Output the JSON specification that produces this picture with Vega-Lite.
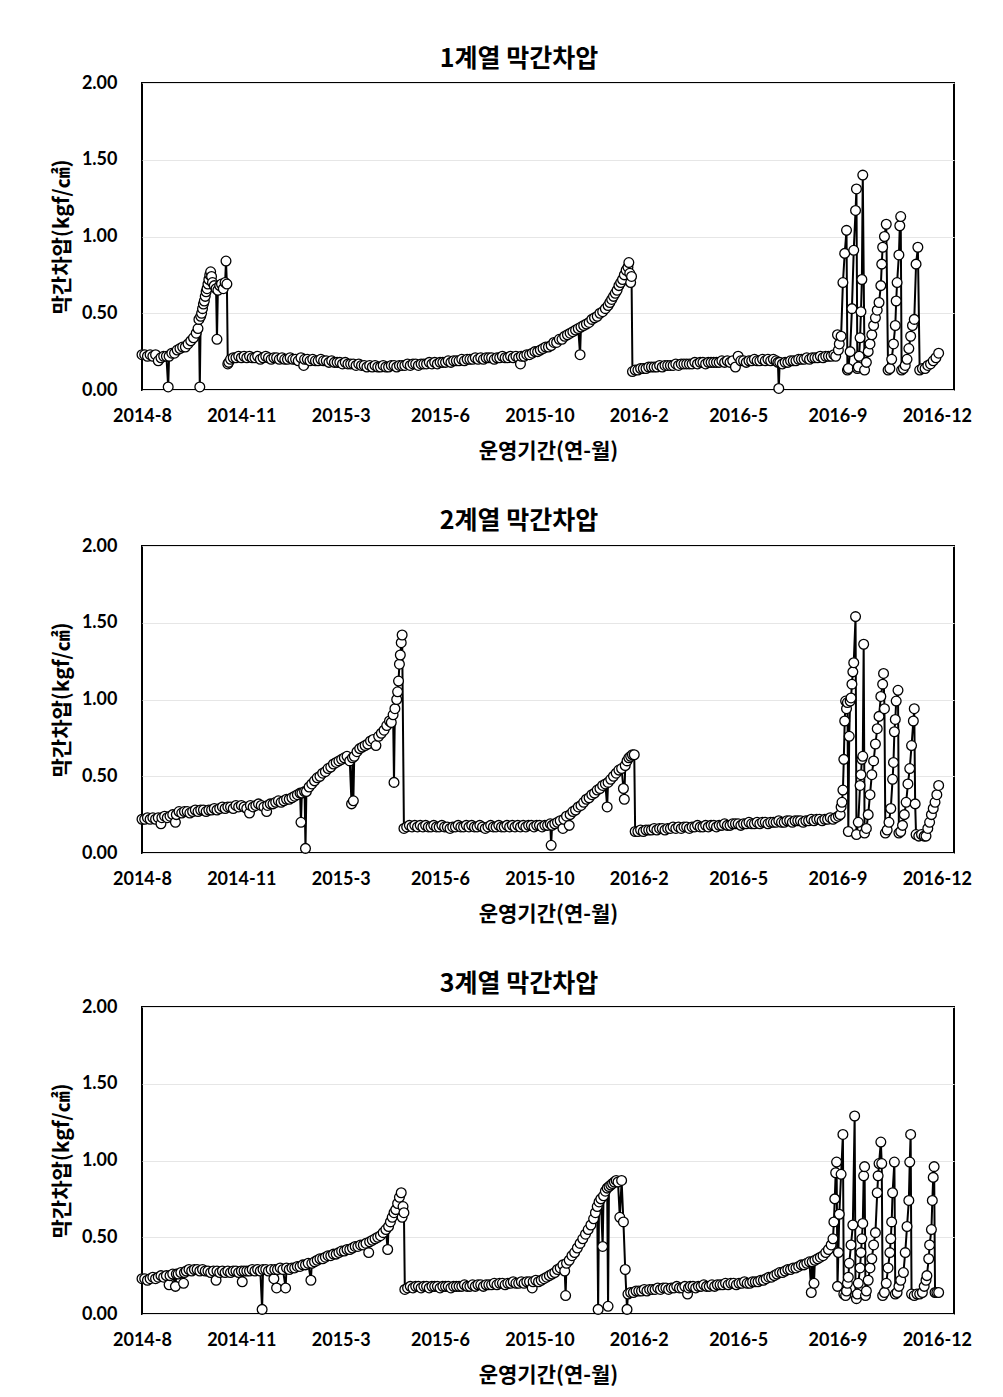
{
"$schema":"https://vega.github.io/schema/vega-lite/v6.json",
"background":"white",
"padding":{"left":50,"top":46,"right":10,"bottom":5},
"spacing":46,
"config":{
"view":{"stroke":"black","strokeWidth":2},
"font":"Noto Sans CJK KR",
"title":{"fontSize":25,"fontWeight":"bold","font":"Noto Sans CJK KR","color":"black","dx":-29,"offset":2}
},
"datasets":{
"s1":[
{"day":0,"v":0.23},{"day":3,"v":0.23},{"day":6,"v":0.22},{"day":9,"v":0.23},{"day":12,"v":0.22},{"day":15,"v":0.23},{"day":18,"v":0.19},{"day":21,"v":0.21},{"day":24,"v":0.22},{"day":27,"v":0.22},{"day":29,"v":0.02},{"day":30,"v":0.22},{"day":33,"v":0.24},{"day":36,"v":0.24},{"day":39,"v":0.26},{"day":42,"v":0.27},{"day":45,"v":0.28},{"day":48,"v":0.28},{"day":51,"v":0.30},{"day":54,"v":0.32},{"day":57,"v":0.34},{"day":60,"v":0.37},{"day":62,"v":0.40},{"day":63,"v":0.46},{"day":64,"v":0.02},{"day":65,"v":0.48},{"day":66,"v":0.50},{"day":67,"v":0.53},{"day":68,"v":0.56},{"day":69,"v":0.58},{"day":70,"v":0.61},{"day":71,"v":0.64},{"day":72,"v":0.66},{"day":73,"v":0.69},{"day":74,"v":0.72},{"day":75,"v":0.75},{"day":76,"v":0.77},{"day":77,"v":0.74},{"day":78,"v":0.70},{"day":80,"v":0.68},{"day":82,"v":0.66},{"day":83,"v":0.33},{"day":84,"v":0.65},{"day":86,"v":0.68},{"day":88,"v":0.69},{"day":90,"v":0.66},{"day":92,"v":0.70},{"day":93,"v":0.84},{"day":94,"v":0.69},{"day":95,"v":0.17},{"day":96,"v":0.18},{"day":98,"v":0.20},
{"day":101,"v":0.21},{"day":104,"v":0.21},{"day":107,"v":0.22},{"day":110,"v":0.21},{"day":113,"v":0.22},{"day":116,"v":0.21},{"day":119,"v":0.22},{"day":122,"v":0.21},{"day":125,"v":0.21},{"day":128,"v":0.22},{"day":131,"v":0.20},{"day":134,"v":0.21},{"day":137,"v":0.22},{"day":140,"v":0.21},{"day":143,"v":0.20},{"day":146,"v":0.21},{"day":149,"v":0.21},{"day":152,"v":0.20},{"day":155,"v":0.21},{"day":158,"v":0.20},{"day":161,"v":0.20},{"day":164,"v":0.21},{"day":167,"v":0.20},{"day":170,"v":0.20},{"day":173,"v":0.19},{"day":176,"v":0.21},{"day":179,"v":0.16},{"day":180,"v":0.20},{"day":183,"v":0.20},{"day":186,"v":0.19},{"day":189,"v":0.20},{"day":192,"v":0.19},{"day":195,"v":0.19},{"day":198,"v":0.20},
{"day":201,"v":0.19},{"day":204,"v":0.19},{"day":207,"v":0.18},{"day":210,"v":0.19},{"day":213,"v":0.18},{"day":216,"v":0.18},{"day":219,"v":0.18},{"day":222,"v":0.17},{"day":225,"v":0.18},{"day":228,"v":0.17},{"day":231,"v":0.17},{"day":234,"v":0.17},{"day":237,"v":0.16},{"day":240,"v":0.17},{"day":243,"v":0.16},{"day":246,"v":0.16},{"day":249,"v":0.15},{"day":252,"v":0.16},{"day":255,"v":0.15},{"day":258,"v":0.16},{"day":261,"v":0.15},{"day":264,"v":0.15},{"day":267,"v":0.16},{"day":270,"v":0.15},{"day":273,"v":0.15},{"day":276,"v":0.16},{"day":279,"v":0.16},{"day":282,"v":0.15},{"day":285,"v":0.16},{"day":288,"v":0.16},{"day":291,"v":0.16},{"day":294,"v":0.17},{"day":297,"v":0.16},{"day":300,"v":0.17},
{"day":303,"v":0.17},{"day":306,"v":0.16},{"day":309,"v":0.17},{"day":312,"v":0.17},{"day":315,"v":0.17},{"day":318,"v":0.18},{"day":321,"v":0.17},{"day":324,"v":0.18},{"day":327,"v":0.17},{"day":330,"v":0.18},{"day":333,"v":0.18},{"day":336,"v":0.18},{"day":339,"v":0.19},{"day":342,"v":0.18},{"day":345,"v":0.19},{"day":348,"v":0.19},{"day":351,"v":0.19},{"day":354,"v":0.20},{"day":357,"v":0.19},{"day":360,"v":0.20},{"day":363,"v":0.20},{"day":366,"v":0.20},{"day":369,"v":0.21},{"day":372,"v":0.20},{"day":375,"v":0.21},{"day":378,"v":0.20},{"day":381,"v":0.21},{"day":384,"v":0.21},{"day":387,"v":0.21},{"day":390,"v":0.20},{"day":393,"v":0.21},{"day":396,"v":0.21},{"day":399,"v":0.22},
{"day":402,"v":0.21},{"day":405,"v":0.21},{"day":408,"v":0.22},{"day":411,"v":0.21},{"day":414,"v":0.22},{"day":417,"v":0.21},{"day":419,"v":0.17},{"day":420,"v":0.22},{"day":423,"v":0.22},{"day":426,"v":0.23},{"day":429,"v":0.23},{"day":432,"v":0.24},{"day":435,"v":0.25},{"day":438,"v":0.25},{"day":441,"v":0.26},{"day":444,"v":0.27},{"day":447,"v":0.28},{"day":450,"v":0.28},{"day":453,"v":0.29},{"day":456,"v":0.31},{"day":459,"v":0.31},{"day":462,"v":0.33},{"day":465,"v":0.33},{"day":468,"v":0.35},{"day":471,"v":0.36},{"day":474,"v":0.37},{"day":477,"v":0.38},{"day":480,"v":0.39},{"day":483,"v":0.40},{"day":485,"v":0.23},{"day":486,"v":0.41},{"day":489,"v":0.42},{"day":492,"v":0.43},{"day":495,"v":0.44},{"day":498,"v":0.46},
{"day":501,"v":0.47},{"day":504,"v":0.48},{"day":507,"v":0.50},{"day":510,"v":0.51},{"day":513,"v":0.53},{"day":516,"v":0.55},{"day":518,"v":0.57},{"day":520,"v":0.59},{"day":522,"v":0.61},{"day":524,"v":0.63},{"day":526,"v":0.65},{"day":528,"v":0.68},{"day":530,"v":0.70},{"day":532,"v":0.72},{"day":534,"v":0.75},{"day":536,"v":0.78},{"day":538,"v":0.80},{"day":539,"v":0.83},{"day":540,"v":0.76},{"day":541,"v":0.70},{"day":542,"v":0.74},{"day":543,"v":0.12},{"day":546,"v":0.13},{"day":549,"v":0.13},{"day":552,"v":0.14},{"day":555,"v":0.14},{"day":558,"v":0.14},{"day":561,"v":0.15},{"day":564,"v":0.15},{"day":567,"v":0.15},{"day":570,"v":0.15},{"day":573,"v":0.16},{"day":576,"v":0.15},{"day":579,"v":0.16},{"day":582,"v":0.16},{"day":585,"v":0.16},{"day":588,"v":0.16},{"day":591,"v":0.17},{"day":594,"v":0.16},{"day":597,"v":0.17},
{"day":600,"v":0.17},{"day":603,"v":0.17},{"day":606,"v":0.17},{"day":609,"v":0.17},{"day":612,"v":0.18},{"day":615,"v":0.17},{"day":618,"v":0.18},{"day":621,"v":0.18},{"day":624,"v":0.17},{"day":627,"v":0.18},{"day":630,"v":0.18},{"day":633,"v":0.18},{"day":636,"v":0.18},{"day":639,"v":0.18},{"day":642,"v":0.19},{"day":645,"v":0.18},{"day":648,"v":0.19},{"day":651,"v":0.18},{"day":654,"v":0.19},{"day":657,"v":0.15},{"day":660,"v":0.22},{"day":663,"v":0.19},{"day":666,"v":0.19},{"day":669,"v":0.18},{"day":672,"v":0.19},{"day":675,"v":0.19},{"day":678,"v":0.20},{"day":681,"v":0.19},{"day":684,"v":0.19},{"day":687,"v":0.20},{"day":690,"v":0.19},{"day":693,"v":0.20},{"day":696,"v":0.19},{"day":699,"v":0.20},
{"day":702,"v":0.19},{"day":704,"v":0.18},{"day":705,"v":0.01},{"day":706,"v":0.18},{"day":709,"v":0.17},{"day":712,"v":0.18},{"day":715,"v":0.18},{"day":718,"v":0.19},{"day":721,"v":0.19},{"day":724,"v":0.19},{"day":727,"v":0.20},{"day":730,"v":0.20},{"day":733,"v":0.20},{"day":736,"v":0.21},{"day":739,"v":0.20},{"day":742,"v":0.21},{"day":745,"v":0.21},{"day":748,"v":0.21},{"day":751,"v":0.22},{"day":754,"v":0.21},{"day":757,"v":0.22},{"day":760,"v":0.22},{"day":763,"v":0.22},{"day":766,"v":0.23},{"day":768,"v":0.22},{"day":770,"v":0.36},{"day":771,"v":0.26},{"day":772,"v":0.30},{"day":774,"v":0.35},{"day":776,"v":0.70},{"day":778,"v":0.89},{"day":780,"v":1.04},{"day":781,"v":0.13},{"day":782,"v":0.14},{"day":784,"v":0.25},{"day":786,"v":0.53},{"day":788,"v":0.91},{"day":790,"v":1.17},{"day":791,"v":1.31},{"day":792,"v":0.14},{"day":793,"v":0.15},{"day":794,"v":0.22},{"day":795,"v":0.34},{"day":796,"v":0.51},{"day":797,"v":0.72},{"day":798,"v":1.40},
{"day":800,"v":0.13},{"day":802,"v":0.18},{"day":804,"v":0.25},{"day":806,"v":0.30},{"day":808,"v":0.36},{"day":810,"v":0.42},{"day":812,"v":0.47},{"day":814,"v":0.52},{"day":816,"v":0.57},{"day":818,"v":0.68},{"day":819,"v":0.82},{"day":820,"v":0.93},{"day":822,"v":1.00},{"day":824,"v":1.08},{"day":826,"v":0.13},{"day":828,"v":0.14},{"day":830,"v":0.20},{"day":832,"v":0.30},{"day":834,"v":0.42},{"day":835,"v":0.58},{"day":836,"v":0.70},{"day":838,"v":0.88},{"day":839,"v":1.07},{"day":840,"v":1.13},{"day":841,"v":0.13},{"day":843,"v":0.14},{"day":845,"v":0.16},{"day":847,"v":0.20},{"day":849,"v":0.27},{"day":851,"v":0.35},{"day":853,"v":0.42},{"day":855,"v":0.46},{"day":857,"v":0.82},{"day":859,"v":0.93},{"day":861,"v":0.13},{"day":864,"v":0.14},{"day":867,"v":0.14},{"day":870,"v":0.16},{"day":873,"v":0.17},{"day":876,"v":0.19},{"day":879,"v":0.21},{"day":882,"v":0.24}
],
"s2":[
{"day":0,"v":0.22},{"day":3,"v":0.22},{"day":6,"v":0.23},{"day":9,"v":0.22},{"day":12,"v":0.23},{"day":15,"v":0.22},{"day":18,"v":0.23},{"day":21,"v":0.19},{"day":22,"v":0.23},{"day":25,"v":0.24},{"day":28,"v":0.23},{"day":31,"v":0.24},{"day":34,"v":0.25},{"day":37,"v":0.20},{"day":38,"v":0.25},{"day":41,"v":0.27},{"day":44,"v":0.26},{"day":47,"v":0.27},{"day":50,"v":0.27},{"day":53,"v":0.26},{"day":56,"v":0.27},{"day":59,"v":0.28},{"day":62,"v":0.27},{"day":65,"v":0.28},{"day":68,"v":0.28},{"day":71,"v":0.27},{"day":74,"v":0.28},{"day":77,"v":0.28},{"day":80,"v":0.29},{"day":83,"v":0.28},{"day":86,"v":0.29},{"day":89,"v":0.30},{"day":92,"v":0.29},{"day":95,"v":0.30},{"day":98,"v":0.30},
{"day":101,"v":0.29},{"day":104,"v":0.31},{"day":107,"v":0.30},{"day":110,"v":0.31},{"day":113,"v":0.30},{"day":116,"v":0.29},{"day":119,"v":0.26},{"day":120,"v":0.31},{"day":123,"v":0.30},{"day":126,"v":0.31},{"day":129,"v":0.32},{"day":132,"v":0.31},{"day":135,"v":0.30},{"day":138,"v":0.27},{"day":139,"v":0.31},{"day":142,"v":0.32},{"day":145,"v":0.32},{"day":148,"v":0.33},{"day":151,"v":0.34},{"day":154,"v":0.33},{"day":157,"v":0.34},{"day":160,"v":0.35},{"day":163,"v":0.35},{"day":166,"v":0.36},{"day":169,"v":0.37},{"day":172,"v":0.38},{"day":175,"v":0.39},{"day":176,"v":0.20},{"day":177,"v":0.39},{"day":180,"v":0.40},{"day":181,"v":0.03},{"day":182,"v":0.40},{"day":185,"v":0.43},{"day":188,"v":0.45},{"day":191,"v":0.47},{"day":194,"v":0.49},{"day":197,"v":0.50},
{"day":200,"v":0.52},{"day":203,"v":0.53},{"day":206,"v":0.55},{"day":209,"v":0.56},{"day":212,"v":0.58},{"day":215,"v":0.59},{"day":218,"v":0.60},{"day":221,"v":0.61},{"day":224,"v":0.62},{"day":227,"v":0.63},{"day":230,"v":0.60},{"day":232,"v":0.32},{"day":233,"v":0.62},{"day":234,"v":0.34},{"day":235,"v":0.63},{"day":238,"v":0.66},{"day":241,"v":0.68},{"day":244,"v":0.69},{"day":247,"v":0.70},{"day":250,"v":0.71},{"day":253,"v":0.73},{"day":256,"v":0.74},{"day":259,"v":0.70},{"day":262,"v":0.76},{"day":265,"v":0.78},{"day":268,"v":0.80},{"day":271,"v":0.83},{"day":274,"v":0.86},{"day":276,"v":0.85},{"day":278,"v":0.90},{"day":279,"v":0.46},{"day":280,"v":0.94},{"day":282,"v":1.00},{"day":283,"v":1.05},{"day":284,"v":1.12},{"day":285,"v":1.23},{"day":286,"v":1.29},{"day":287,"v":1.37},{"day":288,"v":1.42},{"day":290,"v":0.16},
{"day":293,"v":0.17},{"day":296,"v":0.18},{"day":299,"v":0.17},{"day":302,"v":0.18},{"day":305,"v":0.17},{"day":308,"v":0.18},{"day":311,"v":0.17},{"day":314,"v":0.18},{"day":317,"v":0.17},{"day":320,"v":0.17},{"day":323,"v":0.18},{"day":326,"v":0.17},{"day":329,"v":0.17},{"day":332,"v":0.18},{"day":335,"v":0.17},{"day":338,"v":0.17},{"day":341,"v":0.16},{"day":344,"v":0.17},{"day":347,"v":0.17},{"day":350,"v":0.18},{"day":353,"v":0.17},{"day":356,"v":0.17},{"day":359,"v":0.18},{"day":362,"v":0.17},{"day":365,"v":0.18},{"day":368,"v":0.17},{"day":371,"v":0.17},{"day":374,"v":0.18},{"day":377,"v":0.17},{"day":380,"v":0.16},{"day":383,"v":0.17},{"day":386,"v":0.18},{"day":389,"v":0.17},{"day":392,"v":0.17},{"day":395,"v":0.18},{"day":398,"v":0.17},
{"day":401,"v":0.17},{"day":404,"v":0.18},{"day":407,"v":0.17},{"day":410,"v":0.18},{"day":413,"v":0.17},{"day":416,"v":0.18},{"day":419,"v":0.17},{"day":422,"v":0.18},{"day":425,"v":0.17},{"day":428,"v":0.18},{"day":431,"v":0.18},{"day":434,"v":0.17},{"day":437,"v":0.18},{"day":440,"v":0.18},{"day":443,"v":0.17},{"day":446,"v":0.18},{"day":449,"v":0.18},{"day":452,"v":0.19},{"day":453,"v":0.05},{"day":454,"v":0.18},{"day":457,"v":0.19},{"day":460,"v":0.20},{"day":463,"v":0.21},{"day":466,"v":0.16},{"day":467,"v":0.22},{"day":470,"v":0.24},{"day":473,"v":0.18},{"day":474,"v":0.25},{"day":477,"v":0.27},{"day":480,"v":0.28},{"day":483,"v":0.30},{"day":486,"v":0.31},{"day":489,"v":0.33},{"day":492,"v":0.35},{"day":495,"v":0.36},{"day":498,"v":0.38},
{"day":501,"v":0.39},{"day":504,"v":0.41},{"day":507,"v":0.42},{"day":510,"v":0.44},{"day":513,"v":0.45},{"day":515,"v":0.30},{"day":516,"v":0.46},{"day":519,"v":0.48},{"day":522,"v":0.50},{"day":525,"v":0.52},{"day":528,"v":0.54},{"day":531,"v":0.55},{"day":533,"v":0.42},{"day":534,"v":0.35},{"day":535,"v":0.57},{"day":537,"v":0.60},{"day":539,"v":0.62},{"day":541,"v":0.63},{"day":543,"v":0.64},{"day":545,"v":0.64},{"day":546,"v":0.14},{"day":549,"v":0.14},{"day":552,"v":0.15},{"day":555,"v":0.14},{"day":558,"v":0.15},{"day":561,"v":0.15},{"day":564,"v":0.15},{"day":567,"v":0.16},{"day":570,"v":0.15},{"day":573,"v":0.16},{"day":576,"v":0.16},{"day":579,"v":0.15},{"day":582,"v":0.16},{"day":585,"v":0.16},{"day":588,"v":0.17},{"day":591,"v":0.16},{"day":594,"v":0.17},{"day":597,"v":0.16},
{"day":600,"v":0.17},{"day":603,"v":0.17},{"day":606,"v":0.16},{"day":609,"v":0.17},{"day":612,"v":0.17},{"day":615,"v":0.18},{"day":618,"v":0.17},{"day":621,"v":0.17},{"day":624,"v":0.18},{"day":627,"v":0.17},{"day":630,"v":0.18},{"day":633,"v":0.18},{"day":636,"v":0.17},{"day":639,"v":0.18},{"day":642,"v":0.18},{"day":645,"v":0.19},{"day":648,"v":0.18},{"day":651,"v":0.18},{"day":654,"v":0.19},{"day":657,"v":0.19},{"day":660,"v":0.19},{"day":663,"v":0.18},{"day":666,"v":0.19},{"day":669,"v":0.19},{"day":672,"v":0.20},{"day":675,"v":0.19},{"day":678,"v":0.19},{"day":681,"v":0.20},{"day":684,"v":0.19},{"day":687,"v":0.20},{"day":690,"v":0.20},{"day":693,"v":0.19},{"day":696,"v":0.20},{"day":699,"v":0.20},
{"day":702,"v":0.20},{"day":705,"v":0.21},{"day":708,"v":0.20},{"day":711,"v":0.20},{"day":714,"v":0.21},{"day":717,"v":0.21},{"day":720,"v":0.20},{"day":723,"v":0.21},{"day":726,"v":0.21},{"day":729,"v":0.21},{"day":732,"v":0.20},{"day":735,"v":0.21},{"day":738,"v":0.21},{"day":741,"v":0.22},{"day":744,"v":0.21},{"day":747,"v":0.22},{"day":750,"v":0.22},{"day":753,"v":0.21},{"day":756,"v":0.22},{"day":759,"v":0.22},{"day":762,"v":0.23},{"day":765,"v":0.22},{"day":768,"v":0.23},{"day":771,"v":0.24},{"day":773,"v":0.25},{"day":774,"v":0.30},{"day":775,"v":0.33},{"day":776,"v":0.41},{"day":777,"v":0.61},{"day":778,"v":0.86},{"day":779,"v":0.99},{"day":780,"v":0.94},{"day":781,"v":0.98},{"day":782,"v":0.14},{"day":783,"v":0.76},{"day":784,"v":0.99},{"day":785,"v":1.01},{"day":786,"v":1.10},{"day":787,"v":1.18},{"day":788,"v":1.24},{"day":790,"v":1.54},{"day":791,"v":0.12},{"day":793,"v":0.20},{"day":795,"v":0.44},{"day":796,"v":0.51},{"day":797,"v":0.61},{"day":798,"v":0.63},{"day":799,"v":1.36},
{"day":800,"v":0.13},{"day":802,"v":0.16},{"day":804,"v":0.25},{"day":806,"v":0.38},{"day":808,"v":0.51},{"day":810,"v":0.60},{"day":812,"v":0.71},{"day":814,"v":0.81},{"day":816,"v":0.89},{"day":818,"v":1.02},{"day":820,"v":1.10},{"day":821,"v":1.17},{"day":822,"v":0.94},{"day":823,"v":0.13},{"day":825,"v":0.15},{"day":827,"v":0.20},{"day":829,"v":0.29},{"day":831,"v":0.48},{"day":832,"v":0.59},{"day":833,"v":0.79},{"day":834,"v":0.87},{"day":835,"v":0.99},{"day":837,"v":1.06},{"day":838,"v":0.13},{"day":840,"v":0.14},{"day":842,"v":0.18},{"day":844,"v":0.25},{"day":846,"v":0.33},{"day":848,"v":0.45},{"day":850,"v":0.55},{"day":852,"v":0.70},{"day":854,"v":0.86},{"day":855,"v":0.94},{"day":856,"v":0.32},{"day":857,"v":0.12},{"day":860,"v":0.11},{"day":863,"v":0.12},{"day":866,"v":0.11},{"day":868,"v":0.11},{"day":870,"v":0.16},{"day":872,"v":0.20},{"day":874,"v":0.25},{"day":876,"v":0.29},{"day":878,"v":0.33},{"day":880,"v":0.38},{"day":882,"v":0.44}
],
"s3":[
{"day":0,"v":0.23},{"day":3,"v":0.23},{"day":6,"v":0.22},{"day":9,"v":0.23},{"day":12,"v":0.24},{"day":15,"v":0.23},{"day":18,"v":0.24},{"day":21,"v":0.25},{"day":24,"v":0.24},{"day":27,"v":0.25},{"day":30,"v":0.19},{"day":31,"v":0.25},{"day":34,"v":0.26},{"day":37,"v":0.18},{"day":38,"v":0.26},{"day":40,"v":0.26},{"day":43,"v":0.27},{"day":46,"v":0.20},{"day":47,"v":0.27},{"day":49,"v":0.28},{"day":52,"v":0.29},{"day":55,"v":0.28},{"day":58,"v":0.29},{"day":61,"v":0.29},{"day":64,"v":0.28},{"day":67,"v":0.29},{"day":70,"v":0.28},{"day":73,"v":0.28},{"day":76,"v":0.27},{"day":79,"v":0.28},{"day":82,"v":0.22},{"day":83,"v":0.28},{"day":86,"v":0.27},{"day":89,"v":0.28},{"day":92,"v":0.27},{"day":95,"v":0.28},{"day":98,"v":0.27},
{"day":101,"v":0.28},{"day":104,"v":0.28},{"day":107,"v":0.27},{"day":110,"v":0.28},{"day":111,"v":0.21},{"day":113,"v":0.28},{"day":116,"v":0.28},{"day":119,"v":0.28},{"day":122,"v":0.29},{"day":125,"v":0.28},{"day":128,"v":0.29},{"day":131,"v":0.28},{"day":133,"v":0.03},{"day":134,"v":0.29},{"day":137,"v":0.29},{"day":140,"v":0.28},{"day":143,"v":0.29},{"day":146,"v":0.23},{"day":147,"v":0.29},{"day":149,"v":0.17},{"day":150,"v":0.29},{"day":153,"v":0.30},{"day":156,"v":0.29},{"day":159,"v":0.17},{"day":160,"v":0.30},{"day":163,"v":0.29},{"day":166,"v":0.30},{"day":169,"v":0.30},{"day":172,"v":0.31},{"day":175,"v":0.31},{"day":178,"v":0.32},{"day":181,"v":0.32},{"day":184,"v":0.33},{"day":187,"v":0.22},{"day":188,"v":0.33},{"day":191,"v":0.34},{"day":194,"v":0.35},{"day":197,"v":0.36},
{"day":200,"v":0.36},{"day":203,"v":0.37},{"day":206,"v":0.38},{"day":209,"v":0.38},{"day":212,"v":0.39},{"day":215,"v":0.39},{"day":218,"v":0.40},{"day":221,"v":0.41},{"day":224,"v":0.41},{"day":227,"v":0.42},{"day":230,"v":0.42},{"day":233,"v":0.43},{"day":236,"v":0.44},{"day":239,"v":0.44},{"day":242,"v":0.45},{"day":245,"v":0.45},{"day":248,"v":0.46},{"day":251,"v":0.40},{"day":252,"v":0.47},{"day":255,"v":0.48},{"day":258,"v":0.49},{"day":261,"v":0.50},{"day":264,"v":0.51},{"day":267,"v":0.53},{"day":270,"v":0.55},{"day":272,"v":0.42},{"day":273,"v":0.57},{"day":275,"v":0.60},{"day":277,"v":0.63},{"day":279,"v":0.66},{"day":281,"v":0.68},{"day":283,"v":0.72},{"day":285,"v":0.76},{"day":287,"v":0.79},{"day":288,"v":0.63},{"day":289,"v":0.70},{"day":290,"v":0.66},{"day":291,"v":0.16},
{"day":294,"v":0.17},{"day":297,"v":0.18},{"day":300,"v":0.17},{"day":303,"v":0.18},{"day":306,"v":0.18},{"day":309,"v":0.17},{"day":312,"v":0.18},{"day":315,"v":0.18},{"day":318,"v":0.17},{"day":321,"v":0.18},{"day":324,"v":0.18},{"day":327,"v":0.18},{"day":330,"v":0.17},{"day":333,"v":0.18},{"day":336,"v":0.18},{"day":339,"v":0.18},{"day":342,"v":0.17},{"day":345,"v":0.18},{"day":348,"v":0.18},{"day":351,"v":0.18},{"day":354,"v":0.18},{"day":357,"v":0.19},{"day":360,"v":0.18},{"day":363,"v":0.18},{"day":366,"v":0.19},{"day":369,"v":0.18},{"day":372,"v":0.19},{"day":375,"v":0.19},{"day":378,"v":0.18},{"day":381,"v":0.19},{"day":384,"v":0.19},{"day":387,"v":0.19},{"day":390,"v":0.20},{"day":393,"v":0.19},{"day":396,"v":0.20},{"day":399,"v":0.20},
{"day":402,"v":0.19},{"day":405,"v":0.20},{"day":408,"v":0.20},{"day":411,"v":0.21},{"day":414,"v":0.20},{"day":417,"v":0.20},{"day":420,"v":0.21},{"day":423,"v":0.20},{"day":426,"v":0.21},{"day":429,"v":0.21},{"day":432,"v":0.17},{"day":433,"v":0.21},{"day":436,"v":0.22},{"day":439,"v":0.21},{"day":442,"v":0.22},{"day":445,"v":0.23},{"day":448,"v":0.24},{"day":451,"v":0.25},{"day":454,"v":0.26},{"day":457,"v":0.27},{"day":460,"v":0.29},{"day":463,"v":0.30},{"day":466,"v":0.32},{"day":468,"v":0.28},{"day":469,"v":0.12},{"day":470,"v":0.33},{"day":473,"v":0.35},{"day":476,"v":0.38},{"day":479,"v":0.40},{"day":482,"v":0.43},{"day":485,"v":0.46},{"day":488,"v":0.49},{"day":491,"v":0.52},{"day":494,"v":0.55},{"day":497,"v":0.58},
{"day":500,"v":0.62},{"day":502,"v":0.66},{"day":504,"v":0.70},{"day":505,"v":0.03},{"day":506,"v":0.73},{"day":508,"v":0.75},{"day":510,"v":0.44},{"day":511,"v":0.77},{"day":513,"v":0.80},{"day":515,"v":0.82},{"day":516,"v":0.05},{"day":517,"v":0.83},{"day":519,"v":0.84},{"day":521,"v":0.85},{"day":523,"v":0.86},{"day":525,"v":0.87},{"day":527,"v":0.86},{"day":529,"v":0.63},{"day":531,"v":0.87},{"day":533,"v":0.60},{"day":535,"v":0.29},{"day":537,"v":0.03},{"day":538,"v":0.13},{"day":541,"v":0.14},{"day":544,"v":0.14},{"day":547,"v":0.15},{"day":550,"v":0.15},{"day":553,"v":0.15},{"day":556,"v":0.16},{"day":559,"v":0.15},{"day":562,"v":0.16},{"day":565,"v":0.16},{"day":568,"v":0.16},{"day":571,"v":0.17},{"day":574,"v":0.16},{"day":577,"v":0.17},{"day":580,"v":0.17},{"day":583,"v":0.16},{"day":586,"v":0.17},{"day":589,"v":0.17},{"day":592,"v":0.18},{"day":595,"v":0.17},{"day":598,"v":0.17},
{"day":601,"v":0.18},{"day":604,"v":0.13},{"day":605,"v":0.17},{"day":607,"v":0.18},{"day":610,"v":0.18},{"day":613,"v":0.17},{"day":616,"v":0.18},{"day":619,"v":0.18},{"day":622,"v":0.19},{"day":625,"v":0.18},{"day":628,"v":0.18},{"day":631,"v":0.19},{"day":634,"v":0.18},{"day":637,"v":0.19},{"day":640,"v":0.19},{"day":643,"v":0.19},{"day":646,"v":0.20},{"day":649,"v":0.19},{"day":652,"v":0.20},{"day":655,"v":0.20},{"day":658,"v":0.19},{"day":661,"v":0.20},{"day":664,"v":0.20},{"day":667,"v":0.21},{"day":670,"v":0.20},{"day":673,"v":0.20},{"day":676,"v":0.21},{"day":679,"v":0.21},{"day":682,"v":0.21},{"day":685,"v":0.22},{"day":688,"v":0.22},{"day":691,"v":0.23},{"day":694,"v":0.24},{"day":697,"v":0.24},
{"day":700,"v":0.25},{"day":703,"v":0.26},{"day":706,"v":0.27},{"day":709,"v":0.27},{"day":712,"v":0.28},{"day":715,"v":0.29},{"day":718,"v":0.29},{"day":721,"v":0.30},{"day":724,"v":0.30},{"day":727,"v":0.31},{"day":730,"v":0.32},{"day":733,"v":0.32},{"day":736,"v":0.33},{"day":739,"v":0.34},{"day":741,"v":0.14},{"day":742,"v":0.34},{"day":744,"v":0.20},{"day":745,"v":0.35},{"day":748,"v":0.36},{"day":751,"v":0.37},{"day":754,"v":0.38},{"day":757,"v":0.40},{"day":760,"v":0.42},{"day":763,"v":0.45},{"day":765,"v":0.49},{"day":766,"v":0.60},{"day":767,"v":0.75},{"day":768,"v":0.92},{"day":769,"v":0.99},{"day":770,"v":0.18},{"day":771,"v":0.40},{"day":772,"v":0.65},{"day":774,"v":0.91},{"day":776,"v":1.17},{"day":777,"v":0.13},{"day":779,"v":0.12},{"day":780,"v":0.15},{"day":781,"v":0.20},{"day":782,"v":0.24},{"day":783,"v":0.33},{"day":785,"v":0.45},{"day":787,"v":0.58},{"day":789,"v":1.29},{"day":790,"v":0.12},{"day":791,"v":0.10},{"day":792,"v":0.13},{"day":793,"v":0.20},{"day":795,"v":0.30},{"day":796,"v":0.40},{"day":797,"v":0.49},{"day":798,"v":0.59},{"day":799,"v":0.90},
{"day":800,"v":0.96},{"day":801,"v":0.12},{"day":802,"v":0.15},{"day":804,"v":0.22},{"day":806,"v":0.30},{"day":808,"v":0.36},{"day":810,"v":0.45},{"day":812,"v":0.53},{"day":814,"v":0.79},{"day":815,"v":0.90},{"day":816,"v":0.98},{"day":818,"v":1.12},{"day":819,"v":0.98},{"day":820,"v":0.12},{"day":822,"v":0.14},{"day":824,"v":0.20},{"day":826,"v":0.30},{"day":828,"v":0.40},{"day":829,"v":0.49},{"day":830,"v":0.60},{"day":831,"v":0.79},{"day":833,"v":0.99},{"day":834,"v":0.13},{"day":836,"v":0.14},{"day":838,"v":0.18},{"day":840,"v":0.22},{"day":843,"v":0.27},{"day":845,"v":0.40},{"day":847,"v":0.57},{"day":849,"v":0.74},{"day":850,"v":0.99},{"day":851,"v":1.17},{"day":852,"v":0.13},{"day":855,"v":0.12},{"day":858,"v":0.13},{"day":861,"v":0.13},{"day":864,"v":0.14},{"day":866,"v":0.18},{"day":868,"v":0.22},{"day":869,"v":0.25},{"day":871,"v":0.36},{"day":872,"v":0.45},{"day":874,"v":0.55},{"day":875,"v":0.74},{"day":876,"v":0.89},{"day":877,"v":0.96},{"day":878,"v":0.14},{"day":880,"v":0.14},{"day":882,"v":0.14}
]
},
"vconcat":[
{"title":{"text":"1계열 막간차압","offset":2},"width":812,"height":307,"data":{"name":"s1"},
"encoding":{"x":{"field":"day","type":"quantitative","scale":{"domain":[0,899],"nice":false,"zero":false},"axis":{"title":"운영기간(연-월)","values":[0,110,220,330,440,550,660,770,880],"labelExpr":"['2014-8','2014-11','2015-3','2015-6','2015-10','2016-2','2016-5','2016-9','2016-12'][round(datum.value/110)]","grid":false,"ticks":false,"domain":false,"labelFlush":false,"labelOverlap":false,"labelFont":"Lato","labelFontWeight":"bold","labelFontSize":18,"labelColor":"black","labelPadding":17,"titleFont":"Noto Sans CJK KR","titleFontSize":21,"titleFontWeight":"bold","titleColor":"black","titlePadding":15}},
"y":{"field":"v","type":"quantitative","scale":{"domain":[0,2],"nice":false},"axis":{"title":"막간차압(kgf/㎠)","values":[0,0.5,1,1.5,2],"format":".2f","grid":true,"gridColor":"#e6e6e6","gridWidth":1,"ticks":false,"domain":false,"labelFont":"Lato","labelFontWeight":"bold","labelFontSize":18,"labelColor":"black","labelPadding":25,"titleFont":"Noto Sans CJK KR","titleFontSize":21,"titleFontWeight":"bold","titleColor":"black","titlePadding":9}}},
"layer":[{"mark":{"type":"line","color":"black","strokeWidth":2}},{"mark":{"type":"point","shape":"circle","filled":true,"fill":"white","stroke":"black","strokeWidth":1.3,"size":95,"opacity":1}}]},
{"title":{"text":"2계열 막간차압","offset":3},"width":812,"height":307,"data":{"name":"s2"},
"encoding":{"x":{"field":"day","type":"quantitative","scale":{"domain":[0,899],"nice":false,"zero":false},"axis":{"title":"운영기간(연-월)","values":[0,110,220,330,440,550,660,770,880],"labelExpr":"['2014-8','2014-11','2015-3','2015-6','2015-10','2016-2','2016-5','2016-9','2016-12'][round(datum.value/110)]","grid":false,"ticks":false,"domain":false,"labelFlush":false,"labelOverlap":false,"labelFont":"Lato","labelFontWeight":"bold","labelFontSize":18,"labelColor":"black","labelPadding":17,"titleFont":"Noto Sans CJK KR","titleFontSize":21,"titleFontWeight":"bold","titleColor":"black","titlePadding":15}},
"y":{"field":"v","type":"quantitative","scale":{"domain":[0,2],"nice":false},"axis":{"title":"막간차압(kgf/㎠)","values":[0,0.5,1,1.5,2],"format":".2f","grid":true,"gridColor":"#e6e6e6","gridWidth":1,"ticks":false,"domain":false,"labelFont":"Lato","labelFontWeight":"bold","labelFontSize":18,"labelColor":"black","labelPadding":25,"titleFont":"Noto Sans CJK KR","titleFontSize":21,"titleFontWeight":"bold","titleColor":"black","titlePadding":9}}},
"layer":[{"mark":{"type":"line","color":"black","strokeWidth":2}},{"mark":{"type":"point","shape":"circle","filled":true,"fill":"white","stroke":"black","strokeWidth":1.3,"size":95,"opacity":1}}]},
{"title":{"text":"3계열 막간차압","offset":1},"width":812,"height":307,"data":{"name":"s3"},
"encoding":{"x":{"field":"day","type":"quantitative","scale":{"domain":[0,899],"nice":false,"zero":false},"axis":{"title":"운영기간(연-월)","values":[0,110,220,330,440,550,660,770,880],"labelExpr":"['2014-8','2014-11','2015-3','2015-6','2015-10','2016-2','2016-5','2016-9','2016-12'][round(datum.value/110)]","grid":false,"ticks":false,"domain":false,"labelFlush":false,"labelOverlap":false,"labelFont":"Lato","labelFontWeight":"bold","labelFontSize":18,"labelColor":"black","labelPadding":17,"titleFont":"Noto Sans CJK KR","titleFontSize":21,"titleFontWeight":"bold","titleColor":"black","titlePadding":15}},
"y":{"field":"v","type":"quantitative","scale":{"domain":[0,2],"nice":false},"axis":{"title":"막간차압(kgf/㎠)","values":[0,0.5,1,1.5,2],"format":".2f","grid":true,"gridColor":"#e6e6e6","gridWidth":1,"ticks":false,"domain":false,"labelFont":"Lato","labelFontWeight":"bold","labelFontSize":18,"labelColor":"black","labelPadding":25,"titleFont":"Noto Sans CJK KR","titleFontSize":21,"titleFontWeight":"bold","titleColor":"black","titlePadding":9}}},
"layer":[{"mark":{"type":"line","color":"black","strokeWidth":2}},{"mark":{"type":"point","shape":"circle","filled":true,"fill":"white","stroke":"black","strokeWidth":1.3,"size":95,"opacity":1}}]}
]
}
